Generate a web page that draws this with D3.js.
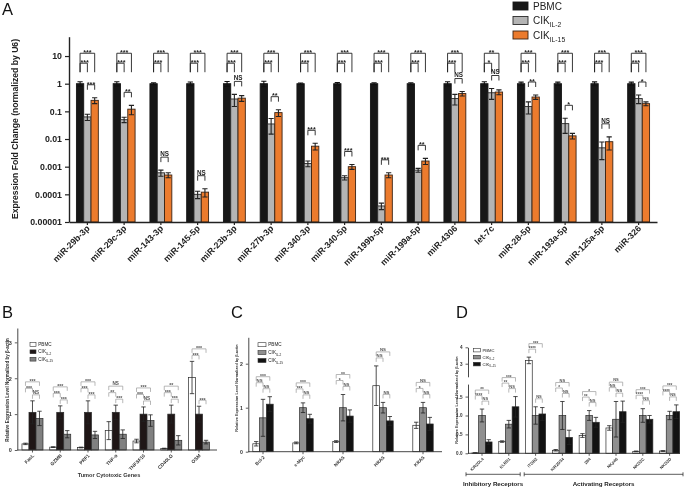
<!DOCTYPE html>
<html><head><meta charset="utf-8">
<script src="https://cdn.jsdelivr.net/npm/d3@7"></script>
<style>
body{margin:0;background:#fff}
svg{display:block;font-family:"Liberation Sans",Arial,sans-serif;-webkit-font-smoothing:antialiased;will-change:transform}
</style>
</head><body>
<svg id="chart" width="685" height="487"></svg>
<script>
// ================= Panel A data =================
const aCategories = ["miR-29b-3p","miR-29c-3p","miR-143-3p","miR-145-5p","miR-23b-3p","miR-27b-3p","miR-340-3p","miR-340-5p","miR-199b-5p","miR-199a-5p","miR-4306","let-7c","miR-28-5p","miR-193a-5p","miR-125a-5p","miR-326"];
const aPBMC    = [1,1,1,1,1,1,1,1,1,1,1,1,1,1,1,1];
const aPBMCErr = [0.18,0.17,0.08,0.15,0.2,0.22,0.06,0.1,0.08,0.08,0.17,0.17,0.14,0.14,0.16,0.14];
const aIL2     = [0.063,0.05,0.0006,0.0001,0.28,0.035,0.0013,0.0004,0.000038,0.00075,0.29,0.47,0.15,0.036,0.0048,0.29];
const aIL2Err  = [0.016,0.011,0.00015,0.00003,0.13,0.02,0.0003,0.00007,0.00001,0.00012,0.12,0.2,0.07,0.02,0.003,0.1];
const aIL15    = [0.25,0.12,0.0005,0.00012,0.3,0.09,0.0055,0.001,0.0005,0.0016,0.44,0.5,0.33,0.013,0.008,0.19];
const aIL15Err = [0.06,0.045,0.0001,0.00004,0.07,0.025,0.0015,0.0002,0.0001,0.0004,0.08,0.1,0.06,0.003,0.004,0.03];
const aSigTop = ["***","***","***","***","***","***","***","***","***","***","***","**","***","***","***","***"];
const aSigMid = ["***","***","***","***","***","***","***","***","***","***","***","*","***","***","***","***"];
const aSigLow = ["***","**","NS","NS","NS","**","***","***","***","**","NS","NS","**","*","NS","*"];
const aYTicks = [10,1,0.1,0.01,0.001,0.0001,0.00001];
const aYTickLabels = ["10","1","0.1","0.01","0.001","0.0001","0.00001"];

// ================= Panel B data =================
const bCategories = ["FasL","GZMB","PRF1","TNF-α","TNFSF10","CD40LG","OSM"];
const bPBMC    = [0.17,0.08,0.07,0.54,0.25,0.04,2.02];
const bPBMCErr = [0.02,0.01,0.01,0.25,0.05,0.01,0.45];
const bIL2     = [1.05,1.05,1.05,1.05,1.0,1.0,1.0];
const bIL2Err  = [0.32,0.18,0.32,0.2,0.2,0.25,0.22];
const bIL15    = [0.88,0.44,0.42,0.44,0.82,0.27,0.22];
const bIL15Err = [0.2,0.1,0.1,0.12,0.16,0.13,0.05];
const bSigTop = ["***","***","***","NS","***","**","***"];
const bSigMid = ["***","***","***","**","***","***","***"];
const bSigLow = ["NS","***","***","***","NS","***","***"];
const bYTicks = [0,1,2,3];

// ================= Panel C data =================
const cCategories = ["Bcl-2","c-Myc","NRAS","HRAS","KRAS"];
const cPBMC    = [0.18,0.2,0.23,1.5,0.6];
const cPBMCErr = [0.05,0.02,0.02,0.45,0.07];
const cIL2     = [0.77,1.0,1.0,1.0,1.0];
const cIL2Err  = [0.42,0.11,0.3,0.12,0.12];
const cIL15    = [1.08,0.75,0.81,0.7,0.63];
const cIL15Err = [0.17,0.1,0.14,0.1,0.15];
const cSigTop = ["***","***","**","NS","NS"];
const cSigMid = ["NS","***","*","NS","*"];
const cSigLow = ["NS","NS","NS","NS","NS"];
const cYTicks = [0,1,2];

// ================= Panel D data =================
const dCategories = ["KIR2DL4","KLRD1","ITGB2","KIR2DS4","2B4","NKp46","NKG2C","NKG2D"];
const dPBMC    = [0.01,0.31,3.2,0.08,0.47,0.67,0.05,0.06];
const dPBMCErr = [0.005,0.02,0.2,0.02,0.05,0.06,0.01,0.01];
const dIL2     = [1.0,0.77,1.0,1.0,1.0,0.9,1.0,1.0];
const dIL2Err  = [0.17,0.1,0.23,0.37,0.13,0.47,0.18,0.11];
const dIL15    = [0.3,1.23,1.04,0.42,0.82,1.1,0.9,1.1];
const dIL15Err = [0.06,0.27,0.17,0.19,0.13,0.28,0.1,0.18];
const dSigTop = ["**","***","***","NS","*","NS","***","***"];
const dSigMid = ["****","**","****","*","**","NS","****","****"];
const dSigLow = ["NS","NS","NS","NS","NS","NS","NS","NS"];
const dYTicksLow = [0,0.5,1,1.5];
const dYTicksHigh = [3,4];
const dGroups = [{name:"Inhibitory Receptors", from:0, to:1},{name:"Activating Receptors", from:2, to:7}];

const seriesNames = ["PBMC","IL-2","IL-15"];
const yLabelSmall = "Relative Expression Level Normalized by β-actin";

const svg = d3.select("#chart");

function sigLabel(g, xc, yLine, label, size, color) {
  const star = label.indexOf("*") >= 0;
  g.append("text").attr("x", xc).attr("y", star ? yLine + size*0.28 : yLine - size*0.18)
    .attr("text-anchor","middle").attr("font-size", star ? size*1.15 : size)
    .attr("font-weight","bold").attr("fill", color).text(label);
}
function bracket(g, x1, x2, yLine, yLeg1, yLeg2, color, w) {
  g.append("path").attr("d", `M${x1},${yLeg1}V${yLine}H${x2}V${yLeg2}`)
    .attr("fill","none").attr("stroke", color).attr("stroke-width", w);
}
function legendEntry(g, x, y, w, h, fill, name, fs, stroke, sw) {
  g.append("rect").attr("x", x).attr("y", y).attr("width", w).attr("height", h)
    .attr("fill", fill).attr("stroke", stroke).attr("stroke-width", sw);
  const t = g.append("text").attr("x", x + w + fs*0.5).attr("y", y + h/2 + fs*0.36)
    .attr("font-size", fs).attr("fill", "#222");
  if (name === "PBMC") t.text("PBMC");
  else {
    t.append("tspan").text("CIK");
    t.append("tspan").attr("font-size", fs*0.68).attr("dy", fs*0.3).text("IL" + name.slice(2));
  }
}
function panelLetter(x, y, s) {
  svg.append("text").attr("x", x).attr("y", y).attr("font-size", 16.5).attr("fill","#111").text(s);
}

// ================= Panel A =================
(function(){
  const g = svg.append("g");
  const y = d3.scaleLog().domain([0.00001, 50]).range([222, 36.7]);
  const x = d3.scaleBand().domain(aCategories).range([69, 657]);
  const bw = 7.3;
  const vals = [aPBMC, aIL2, aIL15], errs = [aPBMCErr, aIL2Err, aIL15Err];
  const fills = ["#171717", "#b4b4b4", "#ec7b2d"];
  const strokes = ["#171717", "#2a2a2a", "#3a2415"];
  const cx = (c, si) => x(c) + x.bandwidth()/2 + (si - 1) * bw;
  vals.forEach((v, si) => {
    g.append("g").selectAll("rect").data(aCategories).join("rect")
      .attr("x", (c) => cx(c, si) - bw/2)
      .attr("y", (c, i) => y(v[i]))
      .attr("width", bw)
      .attr("height", (c, i) => y(0.00001) - y(v[i]))
      .attr("fill", fills[si]).attr("stroke", strokes[si]).attr("stroke-width", 0.9);
    g.append("g").selectAll("path").data(aCategories).join("path")
      .attr("d", (c, i) => {
        const hi = y(v[i] + errs[si][i]);
        const lo = y(Math.max(v[i] - errs[si][i], v[i] * 0.25));
        const xc = cx(c, si);
        return `M${xc-2.6},${hi}H${xc+2.6}M${xc},${hi}V${lo}M${xc-2.6},${lo}H${xc+2.6}`;
      })
      .attr("fill","none").attr("stroke", si === 0 ? "#111" : "#222").attr("stroke-width", 1.1);
  });
  const br = g.append("g");
  aCategories.forEach((c, i) => {
    const x1 = cx(c,0), x2 = cx(c,1), x3 = cx(c,2);
    const topY = y(12.6), midY = y(5.5), legY = y(2.6);
    bracket(br, x1, x3, topY, legY, legY, "#222", 0.9);
    sigLabel(br, (x1+x3)/2, topY, aSigTop[i], 6.3, "#222");
    bracket(br, x1, x2, midY, legY, legY, "#222", 0.9);
    sigLabel(br, (x1+x2)/2 + 1, midY, aSigMid[i], 6.3, "#222");
    const lowTop = Math.min(y(aIL2[i] + aIL2Err[i]), y(aIL15[i] + aIL15Err[i]));
    const legB = lowTop - 8, line = legB - 5;
    bracket(br, x2, x3, line, legB, legB, "#222", 0.9);
    sigLabel(br, (x2+x3)/2, line, aSigLow[i], 6.3, "#222");
  });
  const ya = g.append("g").attr("transform","translate(69,0)")
    .call(d3.axisLeft(y).tickValues(aYTicks).tickFormat((d,i)=>aYTickLabels[i]).tickSize(4).tickSizeOuter(0));
  ya.select(".domain").attr("stroke","#222").attr("stroke-width",1.4);
  ya.selectAll(".tick line").attr("stroke","#222").attr("stroke-width",1.2);
  ya.selectAll("text").attr("font-size",8.8).attr("font-weight","bold").attr("fill","#222")
    .attr("font-family","Liberation Sans, Arial, sans-serif");
  const xa = g.append("g").attr("transform","translate(0,222)")
    .call(d3.axisBottom(x).tickSize(3).tickSizeOuter(0).tickFormat(""));
  xa.select(".domain").attr("stroke","#222").attr("stroke-width",1.4);
  xa.selectAll(".tick line").attr("stroke","#222").attr("stroke-width",1.2);
  g.append("g").selectAll("text").data(aCategories).join("text")
    .attr("transform", c => `translate(${x(c)+x.bandwidth()/2+3},229) rotate(-45)`)
    .attr("text-anchor","end").attr("font-size",8.8).attr("font-weight","bold").attr("fill","#222")
    .text(c => c);
  g.append("text").attr("transform","translate(18,129) rotate(-90)").attr("text-anchor","middle")
    .attr("font-size",8.6).attr("font-weight","bold").attr("fill","#222")
    .text("Expression Fold Change (normalized by U6)");
  const lg = g.append("g");
  seriesNames.forEach((n, si) => legendEntry(lg, 513, 2 + si*14.5, 15, 8, fills[si], n, 10, strokes[si], 0.9));
  panelLetter(2, 15, "A");
})();

// ================= Generic linear panel (B, C, D) =================
function linearPanel(cfg) {
  const g = svg.append("g");
  const x = d3.scaleBand().domain(cfg.cats).range(cfg.xRange);
  const y = cfg.y, y0 = cfg.y0, bw = cfg.bw;
  const cx = (c, si) => x(c) + x.bandwidth()/2 + (si - 1) * bw;
  cfg.vals.forEach((v, si) => {
    g.append("g").selectAll("rect").data(cfg.cats).join("rect")
      .attr("x", c => cx(c, si) - bw/2)
      .attr("y", (c, i) => y(v[i]))
      .attr("width", bw)
      .attr("height", (c, i) => Math.max(0.6, y0 - y(v[i])))
      .attr("fill", cfg.fills[si]).attr("stroke", "#2a2a2a").attr("stroke-width", 0.7);
    g.append("g").selectAll("path").data(cfg.cats).join("path")
      .attr("d", (c, i) => {
        const e = cfg.errs[si][i];
        const hi = y(v[i] + e), lo = y(Math.max(0, v[i] - e));
        const xc = cx(c, si);
        return `M${xc-2.2},${hi}H${xc+2.2}M${xc},${hi}V${lo}M${xc-2.2},${lo}H${xc+2.2}`;
      })
      .attr("fill","none").attr("stroke","#222").attr("stroke-width",0.8);
  });
  const br = g.append("g");
  const bc = "#9a9a9a";
  cfg.cats.forEach((c, i) => {
    const tops = cfg.vals.map((v, si) => y(v[i] + cfg.errs[si][i]));
    const x1 = cx(c,0), x2 = cx(c,1), x3 = cx(c,2);
    const low = Math.min(tops[1], tops[2]) - cfg.gap;
    const mid = Math.min(low - cfg.step, Math.min(tops[0], tops[1]) - cfg.gap);
    const top = mid - cfg.step;
    bracket(br, x2, x3, low, low + 4, low + 4, bc, 0.7);
    bracket(br, x1, x2, mid, mid + 4, mid + 4, bc, 0.7);
    bracket(br, x1, x3, top, top + 4, top + 4, bc, 0.7);
    sigLabel(br, (x2+x3)/2, low, cfg.sigLow[i], cfg.sigFs, "#555");
    sigLabel(br, (x1+x2)/2, mid, cfg.sigMid[i], cfg.sigFs, "#555");
    sigLabel(br, (x1+x3)/2, top, cfg.sigTop[i], cfg.sigFs, "#555");
  });
  const xa = g.append("g").attr("transform", `translate(0,${y0})`)
    .call(d3.axisBottom(x).tickSize(2.5).tickSizeOuter(0).tickFormat(""));
  xa.select(".domain").attr("d", `M${cfg.axisX},0H${cfg.xEnd}`).attr("stroke","#333").attr("stroke-width",0.9);
  xa.selectAll(".tick line").attr("stroke","#333").attr("stroke-width",0.8);
  g.append("g").selectAll("text").data(cfg.cats).join("text")
    .attr("transform", c => `translate(${x(c)+x.bandwidth()/2+2},${y0+6}) rotate(-45)`)
    .attr("text-anchor","end").attr("font-size",cfg.xFs).attr("font-weight","bold").attr("fill","#333")
    .text(c => c);
  g.append("text").attr("transform", `translate(${cfg.yLabelX},${cfg.yLabelY}) rotate(-90)`)
    .attr("text-anchor","middle").attr("font-size",cfg.yLabelFs).attr("font-weight","bold").attr("fill","#333")
    .text(yLabelSmall);
  const lg = g.append("g");
  seriesNames.forEach((n, si) => legendEntry(lg, cfg.legX, cfg.legY + si*cfg.legStep, cfg.legW, cfg.legH, cfg.fills[si], n, cfg.legFs, "#333", 0.6));
  return {g, x, cx};
}
function styleYAxis(sel, fs) {
  sel.select(".domain").attr("stroke","#333").attr("stroke-width",0.9);
  sel.selectAll(".tick line").attr("stroke","#333").attr("stroke-width",0.8);
  sel.selectAll("text").attr("font-size",fs).attr("font-weight","bold").attr("fill","#333")
    .attr("font-family","Liberation Sans, Arial, sans-serif");
}

// ================= Panel B =================
(function(){
  const y = d3.scaleLinear().domain([0, 3.4]).range([450, 328]);
  const p = linearPanel({
    cats: bCategories, xRange: [18.6, 212.9], y, y0: 450, bw: 7,
    vals: [bPBMC, bIL2, bIL15], errs: [bPBMCErr, bIL2Err, bIL15Err],
    fills: ["#ffffff", "#1f1616", "#808080"],
    sigTop: bSigTop, sigMid: bSigMid, sigLow: bSigLow,
    gap: 6, step: 6.5, sigFs: 4.6, axisX: 17.3, xEnd: 217, xFs: 4.8,
    yLabelX: 9, yLabelY: 390, yLabelFs: 4.5,
    legX: 30, legY: 342.5, legStep: 7.4, legW: 6, legH: 3.8, legFs: 4.6
  });
  const ya = p.g.append("g").attr("transform","translate(17.3,0)")
    .call(d3.axisLeft(y).tickValues(bYTicks).tickFormat(d3.format("d")).tickSize(2.5).tickSizeOuter(0));
  styleYAxis(ya, 5.5);
  p.g.append("text").attr("x", 109).attr("y", 477).attr("text-anchor","middle")
    .attr("font-size",5.6).attr("font-weight","bold").attr("fill","#333").text("Tumor Cytotoxic Genes");
  panelLetter(2, 318, "B");
})();

// ================= Panel C =================
(function(){
  const y = d3.scaleLinear().domain([0, 2.6]).range([451.7, 337.3]);
  const p = linearPanel({
    cats: cCategories, xRange: [243, 443], y, y0: 451.7, bw: 6.8,
    vals: [cPBMC, cIL2, cIL15], errs: [cPBMCErr, cIL2Err, cIL15Err],
    fills: ["#ffffff", "#8f8f8f", "#121212"],
    sigTop: cSigTop, sigMid: cSigMid, sigLow: cSigLow,
    gap: 8, step: 6, sigFs: 4.3, axisX: 248.3, xEnd: 442, xFs: 4.6,
    yLabelX: 238, yLabelY: 388, yLabelFs: 3.8,
    legX: 258, legY: 342.7, legStep: 7.9, legW: 8, legH: 4, legFs: 4.6
  });
  const ya = p.g.append("g").attr("transform","translate(248.3,0)")
    .call(d3.axisLeft(y).tickValues(cYTicks).tickFormat(d3.format("d")).tickSize(2.5).tickSizeOuter(0));
  styleYAxis(ya, 5.2);
  panelLetter(231, 318, "C");
})();

// ================= Panel D (broken axis) =================
(function(){
  const yLow = d3.scaleLinear().domain([0, 1.83]).range([453.3, 384.1]);
  const yHigh = d3.scaleLinear().domain([2.2, 4]).range([376.8, 347.3]);
  const y = v => v <= 1.83 ? yLow(v) : yHigh(Math.max(v, 2.2));
  const p = linearPanel({
    cats: dCategories, xRange: [468.6, 683], y, y0: 453.3, bw: 6.7,
    vals: [dPBMC, dIL2, dIL15], errs: [dPBMCErr, dIL2Err, dIL15Err],
    fills: ["#ffffff", "#8f8f8f", "#121212"],
    sigTop: dSigTop, sigMid: dSigMid, sigLow: dSigLow,
    gap: 8, step: 5.5, sigFs: 4.0, axisX: 468, xEnd: 680, xFs: 4.1,
    yLabelX: 458, yLabelY: 400, yLabelFs: 3.8,
    legX: 473.3, legY: 348.3, legStep: 7, legW: 7, legH: 3.6, legFs: 4.2
  });
  const ya1 = p.g.append("g").attr("transform","translate(468,0)")
    .call(d3.axisLeft(yLow).tickValues(dYTicksLow).tickFormat(d3.format(".1f")).tickSize(2.5).tickSizeOuter(0));
  styleYAxis(ya1, 4.6);
  const ya2 = p.g.append("g").attr("transform","translate(468,0)")
    .call(d3.axisLeft(yHigh).tickValues(dYTicksHigh).tickFormat(d3.format("d")).tickSize(2.5).tickSizeOuter(0));
  styleYAxis(ya2, 4.6);
  const band = p.x;
  dGroups.forEach((gr, k) => {
    const x1 = (k === 0 ? 466 : band(dCategories[gr.from]) + 2);
    const x2 = band(dCategories[gr.to]) + band.bandwidth() - (k === 0 ? 2 : 0);
    const yy = 474.3;
    p.g.append("path").attr("d", `M${x1},${yy-2}V${yy+2}M${x1},${yy}H${x2}M${x2},${yy-2}V${yy+2}`)
      .attr("stroke","#333").attr("stroke-width",0.8).attr("fill","none");
    p.g.append("text").attr("x", (x1+x2)/2).attr("y", 486).attr("text-anchor","middle")
      .attr("font-size",6.2).attr("font-weight","bold").attr("fill","#222").text(gr.name);
  });
  panelLetter(456, 318, "D");
})();
</script>
</body></html>
